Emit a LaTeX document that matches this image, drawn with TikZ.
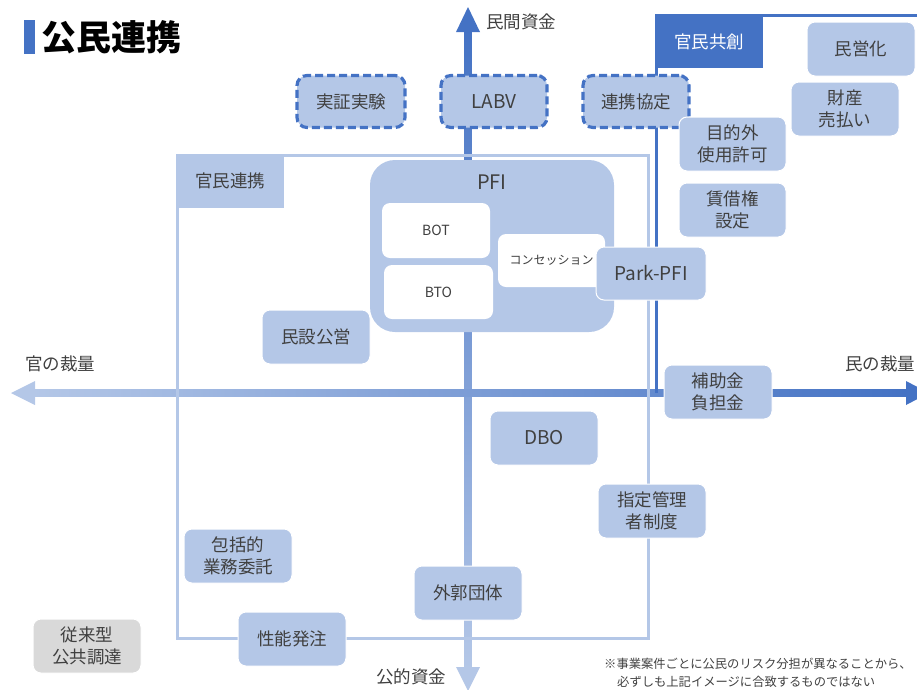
\documentclass[tikz,border=0pt]{standalone}
\usepackage{fontspec}
\setmainfont{Noto Sans CJK JP}
\definecolor{lb}{HTML}{B4C7E7}
\definecolor{db}{HTML}{4472C4}
\definecolor{txt}{HTML}{404040}
\definecolor{gr}{HTML}{D9D9D9}
\begin{document}
\begin{tikzpicture}[x=1pt,y=-1pt,
 bx/.style={rounded corners=8pt, fill=lb, draw=white, line width=1pt, text=txt,
   font=\fontsize{17.5}{22}\selectfont, align=center, inner sep=0pt,
   minimum width=108pt, minimum height=54pt},
 dbx/.style={bx, draw=db, line width=3.2pt, dash pattern=on 8pt off 4pt,
   rounded corners=10pt, minimum width=108pt, minimum height=52pt},
 wbx/.style={bx, fill=white, draw=none, font=\fontsize{14}{16}\selectfont},
 lbl/.style={text=txt, font=\fontsize{17.5}{20}\selectfont, inner sep=0pt}]
\useasboundingbox (0,0) rectangle (917,689);
% axes
\shade[top color=db, bottom color=lb] (464.5,30) rectangle (471.5,668);
\fill[db] (468,7) -- (480,32) -- (456,32) -- cycle;
\fill[lb] (468,691) -- (480,667) -- (456,667) -- cycle;
\shade[left color=lb, right color=db] (33,389.5) rectangle (907,396.5);
\fill[lb] (11,393) -- (35,381) -- (35,405) -- cycle;
\fill[db] (929,393) -- (906,381) -- (906,405) -- cycle;
% axis labels
\node[lbl, anchor=west] (up) at (486,22) {民間資金};
\node[lbl] (down) at (411,677) {公的資金};
\node[lbl] (left) at (60,364) {官の裁量};
\node[lbl] (right) at (880,364) {民の裁量};
% title
\fill[db] (24,20) rectangle (35,54);
\node[anchor=west, font=\fontsize{35}{40}\selectfont\bfseries, inner sep=0pt] (title) at (41,37) {公民連携};
% region outlines
\draw[lb, line width=3pt] (177,155) rectangle (648,638);
\node[fill=lb, text=txt, font=\fontsize{17.5}{20}\selectfont, inner sep=0pt,
  minimum width=108pt, minimum height=54pt] (kanmin) at (230,181) {官民連携};
\draw[db, line width=3pt] (656,393) -- (656,15) -- (920,15);
\node[fill=db, text=white, font=\fontsize{17.5}{20}\selectfont, inner sep=0pt,
  minimum width=108pt, minimum height=53pt] (kyoso) at (709,41.5) {官民共創};
% PFI group
\node[fill=lb, rounded corners=25pt, minimum width=244pt, minimum height=172pt, inner sep=0pt] (pfi) at (492,246) {};
\node[lbl, font=\fontsize{20}{24}\selectfont] (pfit) at (492,182) {PFI};
\node[wbx, minimum width=108pt, minimum height=55pt] (bot) at (436,230.5) {BOT};
\node[wbx, minimum width=109pt, minimum height=54pt] (bto) at (438.5,292) {BTO};
\node[wbx, font=\fontsize{12}{14}\selectfont, minimum width=107pt, minimum height=53pt] (conc) at (551.5,260.5) {コンセッション};
% dashed boxes
\node[dbx, minimum width=108pt] (jissho) at (351,101.5) {実証実験};
\node[dbx, minimum width=106pt, font=\fontsize{19}{22}\selectfont] (labv) at (494,101.5) {LABV};
\node[dbx, minimum width=106pt] (renkei) at (636,101.5) {連携協定};
% boxes
\node[bx] (mineika) at (861,49) {民営化};
\node[bx] (zaisan) at (845,109) {財産\\売払い};
\node[bx, minimum width=107pt] (mokuteki) at (732.5,144) {目的外\\使用許可};
\node[bx, minimum width=107pt] (chinshaku) at (732.5,210) {賃借権\\設定};
\node[bx, minimum width=110pt, minimum height=53pt, font=\fontsize{19}{22}\selectfont] (park) at (651,273.5) {Park-PFI};
\node[bx] (minsetsu) at (316,337) {民設公営};
\node[bx] (hojo) at (718,392) {補助金\\負担金};
\node[bx, font=\fontsize{19}{22}\selectfont] (dbo) at (544,438) {DBO};
\node[bx] (shitei) at (652,511) {指定管理\\者制度};
\node[bx] (gaikaku) at (468,593) {外郭団体};
\node[bx] (hokatsu) at (238,556) {包括的\\業務委託};
\node[bx] (seino) at (292,639) {性能発注};
\node[bx, fill=gr] (jurai) at (87,646) {従来型\\公共調達};
% note
\node[anchor=west, text=txt, font=\fontsize{12.3}{14}\selectfont, inner sep=0pt] (note1) at (604,664) {※事業案件ごとに公民のリスク分担が異なることから、};
\node[anchor=west, text=txt, font=\fontsize{12.3}{14}\selectfont, inner sep=0pt] (note2) at (617,682) {必ずしも上記イメージに合致するものではない};
\end{tikzpicture}
\end{document}
